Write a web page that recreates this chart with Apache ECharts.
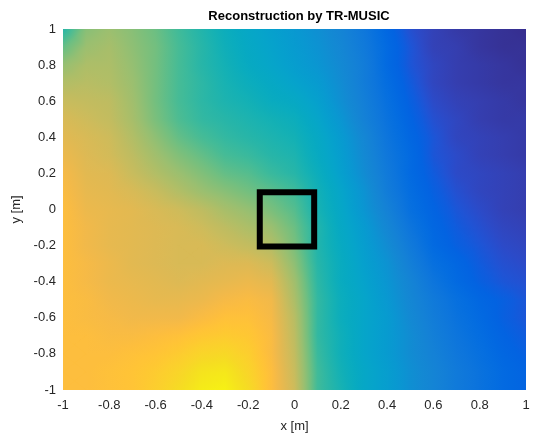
<!DOCTYPE html>
<html>
<head>
<meta charset="utf-8">
<script src="https://cdn.jsdelivr.net/npm/echarts@6/dist/echarts.min.js"></script>
<style>
html,body{margin:0;padding:0;background:#fff;}
#chart{width:536px;height:438px;}
</style>
</head>
<body>
<div id="chart"></div>
<script>
// grid coordinates (x from -1 to 1, y from 1 down to -1, step 0.1)
const xValues = [-1,-0.9,-0.8,-0.7,-0.6,-0.5,-0.4,-0.3,-0.2,-0.1,0,0.1,0.2,0.3,0.4,0.5,0.6,0.7,0.8,0.9,1];
const yValues = [1,0.9,0.8,0.7,0.6,0.5,0.4,0.3,0.2,0.1,0,-0.1,-0.2,-0.3,-0.4,-0.5,-0.6,-0.7,-0.8,-0.9,-1];
// normalised reconstruction intensity, one row per y value
const intensity = [
  [.48,.62,.65,.62,.58,.52,.47,.42,.38,.35,.32,.29,.25,.20,.14,.09,.06,.04,.03,.02,.01],
  [.57,.65,.67,.63,.59,.53,.48,.43,.39,.36,.33,.30,.26,.21,.15,.10,.06,.05,.03,.02,.02],
  [.64,.68,.68,.64,.59,.53,.48,.44,.40,.37,.34,.31,.27,.22,.15,.10,.07,.05,.04,.03,.02],
  [.69,.70,.69,.65,.59,.53,.49,.45,.42,.39,.36,.33,.28,.22,.16,.11,.07,.05,.04,.03,.03],
  [.73,.72,.71,.66,.59,.53,.49,.46,.44,.41,.39,.35,.29,.23,.17,.12,.08,.06,.05,.04,.03],
  [.76,.74,.72,.67,.60,.54,.50,.48,.46,.44,.42,.37,.31,.24,.18,.13,.09,.07,.05,.04,.04],
  [.78,.76,.74,.69,.63,.57,.53,.50,.48,.46,.44,.39,.33,.26,.19,.14,.10,.07,.06,.05,.04],
  [.80,.77,.75,.71,.66,.61,.57,.53,.51,.48,.46,.40,.34,.27,.20,.15,.10,.08,.06,.05,.04],
  [.82,.78,.77,.73,.69,.65,.61,.57,.55,.51,.48,.42,.35,.28,.21,.15,.11,.08,.07,.06,.05],
  [.83,.79,.78,.76,.73,.69,.65,.62,.59,.56,.52,.44,.37,.30,.22,.16,.12,.09,.07,.06,.05],
  [.84,.80,.79,.78,.76,.74,.71,.67,.64,.60,.55,.45,.38,.31,.24,.17,.13,.10,.08,.06,.05],
  [.84,.81,.79,.78,.77,.76,.74,.71,.68,.65,.58,.47,.39,.33,.26,.19,.14,.11,.09,.07,.06],
  [.84,.81,.79,.78,.77,.76,.76,.74,.72,.69,.60,.47,.40,.34,.28,.21,.15,.12,.10,.08,.07],
  [.84,.82,.80,.78,.77,.76,.76,.77,.77,.74,.63,.48,.41,.35,.30,.23,.17,.14,.11,.09,.08],
  [.84,.82,.80,.79,.78,.77,.78,.79,.80,.78,.66,.49,.41,.36,.31,.25,.19,.15,.12,.10,.09],
  [.84,.83,.81,.80,.79,.79,.80,.82,.83,.81,.68,.50,.42,.37,.32,.26,.21,.17,.14,.12,.10],
  [.84,.83,.82,.81,.81,.81,.83,.85,.85,.82,.70,.50,.42,.37,.33,.27,.22,.18,.15,.12,.10],
  [.84,.84,.83,.83,.84,.85,.87,.88,.87,.83,.71,.50,.43,.37,.33,.28,.23,.19,.16,.13,.11],
  [.84,.84,.84,.85,.86,.88,.91,.92,.89,.83,.72,.51,.43,.37,.33,.28,.24,.20,.17,.14,.12],
  [.84,.84,.85,.86,.88,.91,.95,.96,.91,.84,.73,.52,.44,.38,.34,.29,.25,.21,.18,.15,.13],
  [.84,.84,.85,.86,.89,.93,.97,.98,.93,.84,.74,.52,.45,.38,.34,.29,.25,.21,.18,.15,.13]
];
// target square outline (x, y) in metres
const squareX = [-0.15, 0.085, 0.085, -0.15, -0.15];
const squareY = [-0.205, -0.205, 0.095, 0.095, -0.205];
const xTicks = [-1,-0.8,-0.6,-0.4,-0.2,0,0.2,0.4,0.6,0.8,1];
const yTicks = [-1,-0.8,-0.6,-0.4,-0.2,0,0.2,0.4,0.6,0.8,1];

// parula colormap (64 entries)
const parula = ['#352a87','#363093','#3637a0','#353dad','#3243ba','#2c4ac7','#2053d4','#0f5cdd',
  '#0363e1','#0268e1','#046de0','#0871de','#0d75dc','#1079da','#127dd8','#1481d6',
  '#1485d4','#1389d3','#108ed2','#0c93d2','#0998d1','#079ccf','#06a0cd','#06a4ca',
  '#06a7c6','#07a9c2','#0aacbe','#0faeb9','#15b1b4','#1db3af','#25b5a9','#2eb7a4',
  '#38b99e','#42bb98','#4dbc92','#59bd8c','#65be86','#71bf80','#7cbf7b','#87bf77',
  '#92bf73','#9cbf6f','#a5be6b','#aebe67','#b7bd64','#c0bc60','#c8bc5d','#d1bb59',
  '#d9ba56','#e1b952','#e9b94e','#f1b94a','#f8bb44','#fdbe3d','#ffc337','#fec832',
  '#fcce2e','#fad32a','#f7d826','#f5de21','#f5e41d','#f5eb18','#f6f313','#f9fb0e'];
const cmapRGB = parula.map(h => [parseInt(h.slice(1,3),16), parseInt(h.slice(3,5),16), parseInt(h.slice(5,7),16)]);
const N = parula.length - 1;
function colorAt(v) {
  v = Math.max(0, Math.min(1, v));
  const f = v * N, i = Math.min(N - 1, Math.floor(f)), t = f - i;
  const a = cmapRGB[i], b = cmapRGB[i + 1];
  return 'rgb(' + [0,1,2].map(k => Math.round(a[k] + (b[k] - a[k]) * t)).join(',') + ')';
}
// fill for a triangle whose colour follows the value linearly across it
function triFill(P, V) {
  const vlo = Math.min(V[0], V[1], V[2]), vhi = Math.max(V[0], V[1], V[2]);
  if (vhi - vlo < 1e-6) return colorAt(V[0]);
  const e1x = P[1][0] - P[0][0], e1y = P[1][1] - P[0][1];
  const e2x = P[2][0] - P[0][0], e2y = P[2][1] - P[0][1];
  const det = e1x * e2y - e1y * e2x;
  const d1 = V[1] - V[0], d2 = V[2] - V[0];
  const ax = (d1 * e2y - e1y * d2) / det, ay = (e1x * d2 - e2x * d1) / det;
  const n2 = ax * ax + ay * ay;
  const A = [P[0][0] + ax * (vlo - V[0]) / n2, P[0][1] + ay * (vlo - V[0]) / n2];
  const B = [P[0][0] + ax * (vhi - V[0]) / n2, P[0][1] + ay * (vhi - V[0]) / n2];
  const stops = [{offset: 0, color: colorAt(vlo)}];
  for (let k = 1; k < N; k++) {
    const s = k / N;
    if (s > vlo && s < vhi) stops.push({offset: (s - vlo) / (vhi - vlo), color: parula[k]});
  }
  stops.push({offset: 1, color: colorAt(vhi)});
  return {type: 'linear', x: A[0], y: A[1], x2: B[0], y2: B[1], global: true, colorStops: stops};
}

// one item per grid cell: [xLeft, yTop, xRight, yBottom, vTL, vTR, vBL, vBR]
const cells = [];
for (let i = 0; i < yValues.length - 1; i++) {
  for (let j = 0; j < xValues.length - 1; j++) {
    cells.push([xValues[j], yValues[i], xValues[j + 1], yValues[i + 1],
      intensity[i][j], intensity[i][j + 1], intensity[i + 1][j], intensity[i + 1][j + 1]]);
  }
}
const squareData = squareX.map((x, i) => [x, squareY[i]]);

function cellRenderer(strokeWidth) {
  return function (params, api) {
    const x0 = api.value(0), y0 = api.value(1), x1 = api.value(2), y1 = api.value(3);
    const vtl = api.value(4), vtr = api.value(5), vbl = api.value(6), vbr = api.value(7);
    const tl = api.coord([x0, y0]), tr = api.coord([x1, y0]);
    const bl = api.coord([x0, y1]), br = api.coord([x1, y1]);
    const c = [(tl[0] + br[0]) / 2, (tl[1] + br[1]) / 2];
    const vc = (vtl + vtr + vbl + vbr) / 4;
    const tris = [
      [[tl, tr, c], [vtl, vtr, vc]],
      [[tr, br, c], [vtr, vbr, vc]],
      [[br, bl, c], [vbr, vbl, vc]],
      [[bl, tl, c], [vbl, vtl, vc]]
    ];
    return {
      type: 'group',
      children: tris.map(t => {
        const fill = triFill(t[0], t[1]);
        const style = strokeWidth > 0 ? {fill: fill, stroke: fill, lineWidth: strokeWidth} : {fill: fill};
        return {type: 'polygon', shape: {points: t[0]}, style: style};
      })
    };
  };
}

const chart = echarts.init(document.getElementById('chart'), null, {renderer: 'canvas'});
const font = '"Liberation Sans", Arial, Helvetica, sans-serif';
chart.setOption({
  animation: false,
  backgroundColor: '#ffffff',
  title: {
    text: 'Reconstruction by TR-MUSIC',
    left: 294, top: 5, textAlign: 'center',
    textStyle: {fontFamily: font, fontSize: 13, fontWeight: 'bold', color: '#000'}
  },
  grid: {left: 63, right: 10, top: 29, bottom: 48},
  xAxis: {
    type: 'value', min: -1, max: 1, interval: 0.2,
    name: 'x [m]', nameLocation: 'middle', nameGap: 30,
    nameTextStyle: {fontFamily: font, fontSize: 13, color: '#262626'},
    axisLine: {show: false}, axisTick: {show: false}, splitLine: {show: false},
    axisLabel: {fontFamily: font, fontSize: 13, color: '#262626', margin: 9,
      formatter: v => { const t = xTicks.find(k => Math.abs(k - v) < 1e-6); return t === undefined ? '' : String(t); }}
  },
  yAxis: {
    type: 'value', min: -1, max: 1, interval: 0.2,
    name: 'y [m]', nameLocation: 'middle', nameGap: 38, nameRotate: 90,
    nameTextStyle: {fontFamily: font, fontSize: 13, color: '#262626'},
    axisLine: {show: false}, axisTick: {show: false}, splitLine: {show: false},
    axisLabel: {fontFamily: font, fontSize: 13, color: '#262626', margin: 7,
      formatter: v => { const t = yTicks.find(k => Math.abs(k - v) < 1e-6); return t === undefined ? '' : String(t); }}
  },
  series: [
    {
      type: 'custom', name: 'underlay',
      data: cells,
      encode: {x: [0, 2], y: [1, 3]},
      clip: true,
      renderItem: cellRenderer(1.5),
      z: 1
    },
    {
      type: 'custom', name: 'intensity',
      data: cells,
      encode: {x: [0, 2], y: [1, 3]},
      clip: true,
      renderItem: cellRenderer(0),
      z: 2
    },
    {
      type: 'line',
      data: squareData,
      symbol: 'none',
      lineStyle: {color: '#000', width: 6, cap: 'square', join: 'miter'},
      z: 5
    }
  ]
});
</script>
</body>
</html>
